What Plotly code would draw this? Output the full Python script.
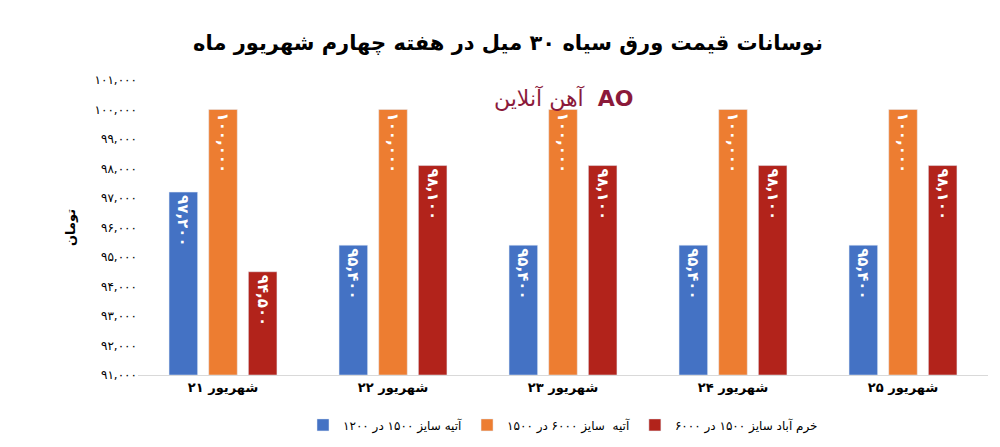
import plotly.graph_objects as go

cats = ["شهریور ۲۱", "شهریور ۲۲", "شهریور ۲۳", "شهریور ۲۴", "شهریور ۲۵"]
s1 = [97200, 95400, 95400, 95400, 95400]
s2 = [100000, 100000, 100000, 100000, 100000]
s3 = [94500, 98100, 98100, 98100, 98100]
names = ["آتیه سایز ۱۵۰۰ در ۱۲۰۰", "آتیه  سایز ۶۰۰۰ در ۱۵۰۰", "خرم آباد سایز ۱۵۰۰ در ۶۰۰۰"]
colors = ["#4472C4", "#ED7D31", "#B2231B"]
ticks = list(range(91000, 101001, 1000))
BASE = 91000

def fa(n):
    s = f"{n:,}"
    return s.translate(str.maketrans("0123456789", "۰۱۲۳۴۵۶۷۸۹"))

fig = go.Figure()
for vals, nm, c in zip([s1, s2, s3], names, colors):
    fig.add_bar(x=cats, y=[v - BASE for v in vals], base=BASE, name=nm, marker_color=c,
                text=["<b>" + fa(v) + "</b>" for v in vals], textposition="inside",
                insidetextanchor="end", textangle=90,
                textfont=dict(color="white", size=15, family="DejaVu Sans"))

fig.update_layout(
    width=1000, height=447, paper_bgcolor="white", plot_bgcolor="white",
    margin=dict(l=130, r=20, t=72, b=80),
    title=dict(text="<b>نوسانات قیمت ورق سیاه ۳۰ میل در هفته چهارم شهریور ماه</b>",
               x=0.5, y=0.94, font=dict(size=21, color="black", family="DejaVu Sans")),
    barmode="group", bargap=0.3, bargroupgap=0.28,
    legend=dict(orientation="h", x=0.5, xanchor="center", y=-0.12,
                font=dict(size=12, family="DejaVu Sans")),
    font=dict(family="DejaVu Sans", color="black"),
    uniformtext=dict(minsize=10, mode="show"),
)
fig.update_yaxes(range=[91000, 101000], tickvals=ticks, ticktext=[fa(t) for t in ticks],
                 showgrid=False, showline=False, tickfont=dict(size=12),
                 title=dict(text="<b>تومان</b>", font=dict(size=13)))
fig.update_xaxes(showline=True, linecolor="#d9d9d9", tickfont=dict(size=13),
                 ticks="", tickprefix="<b>", ticksuffix="</b>")
fig.add_annotation(text="آهن آنلاین  <b>AO</b>", xref="paper", yref="paper", x=0.5, y=0.99,
                   showarrow=False, font=dict(size=22, color="#8B1A3A"))
fig.write_html("out.html")
